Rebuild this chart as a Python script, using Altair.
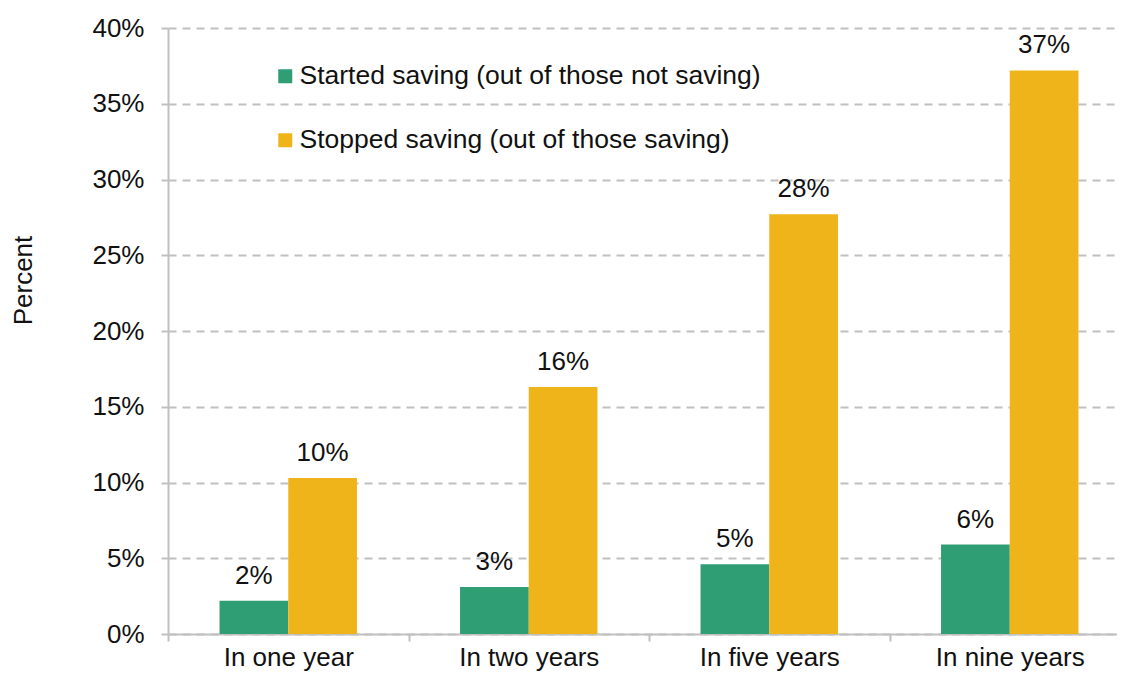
import altair as alt
import pandas as pd

periods = ["In one year", "In two years", "In five years", "In nine years"]
series = ["Started saving (out of those not saving)", "Stopped saving (out of those saving)"]
started = [2.2, 3.1, 4.6, 5.9]
stopped = [10.3, 16.3, 27.7, 37.2]
colors = ["#2f9e74", "#f0b41b"]
y_ticks = [0, 5, 10, 15, 20, 25, 30, 35, 40]

rows = []
for p, a, b in zip(periods, started, stopped):
    rows.append({"period": p, "series": series[0], "value": a})
    rows.append({"period": p, "series": series[1], "value": b})
df = pd.DataFrame(rows)
df["label"] = df["value"].round(0).astype(int).astype(str) + "%"

FONT = "Liberation Sans"
TXT = "#111111"
GRID = "#c0c0c0"
FS = 26

base = alt.Chart(df).encode(
    x=alt.X(
        "period:N",
        sort=periods,
        scale=alt.Scale(paddingInner=0, paddingOuter=0, range=[0, 962]),
        axis=alt.Axis(
            title=None,
            labelAngle=0,
            tickBand="extent",
            tickSize=7,
            tickWidth=2,
            tickColor=GRID,
            domainColor=GRID,
            domainWidth=2,
            grid=False,
            labelFontSize=FS,
            labelColor=TXT,
            labelPadding=3,
        ),
    ),
    xOffset=alt.XOffset(
        "series:N", sort=series, scale=alt.Scale(paddingInner=0, paddingOuter=0.75)
    ),
    y=alt.Y(
        "value:Q",
        scale=alt.Scale(domain=[0, 40], nice=False),
        axis=alt.Axis(
            values=y_ticks,
            labelExpr="datum.value + '%'",
            title="Percent",
            titleFontSize=FS,
            titleFontWeight="normal",
            titleColor=TXT,
            titleX=-145,
            titleY=252,
            titleAngle=270,
            titleAlign="center",
            titleBaseline="middle",
            grid=True,
            gridDash=[8, 6],
            gridColor=GRID,
            gridWidth=2,
            domainColor=GRID,
            domainWidth=2,
            tickColor=GRID,
            tickSize=7,
            tickWidth=2,
            labelFontSize=FS,
            labelColor=TXT,
            labelPadding=17,
        ),
    ),
)

bars = base.mark_bar().encode(
    color=alt.Color(
        "series:N",
        sort=series,
        scale=alt.Scale(domain=series, range=colors),
        legend=alt.Legend(
            title=None,
            orient="none",
            legendX=104,
            legendY=35,
            symbolType="square",
            symbolSize=196,
            symbolStrokeWidth=0,
            labelFontSize=26.5,
            labelColor=TXT,
            labelOffset=1,
            rowPadding=37,
            labelLimit=700,
        ),
    )
)

labels = base.mark_text(
    dy=-17, baseline="alphabetic", fontSize=FS, color=TXT
).encode(text="label:N")

chart = (
    alt.layer(bars, labels)
    .properties(
        width=949,
        height=606,
        autosize=alt.AutoSizeParams(type="none"),
        padding={"left": 160, "top": 20, "right": 0, "bottom": 37},
    )
    .configure(font=FONT)
    .configure_view(stroke=None)
)

chart.save("out.html", embed_options={"renderer": "svg", "actions": False})
